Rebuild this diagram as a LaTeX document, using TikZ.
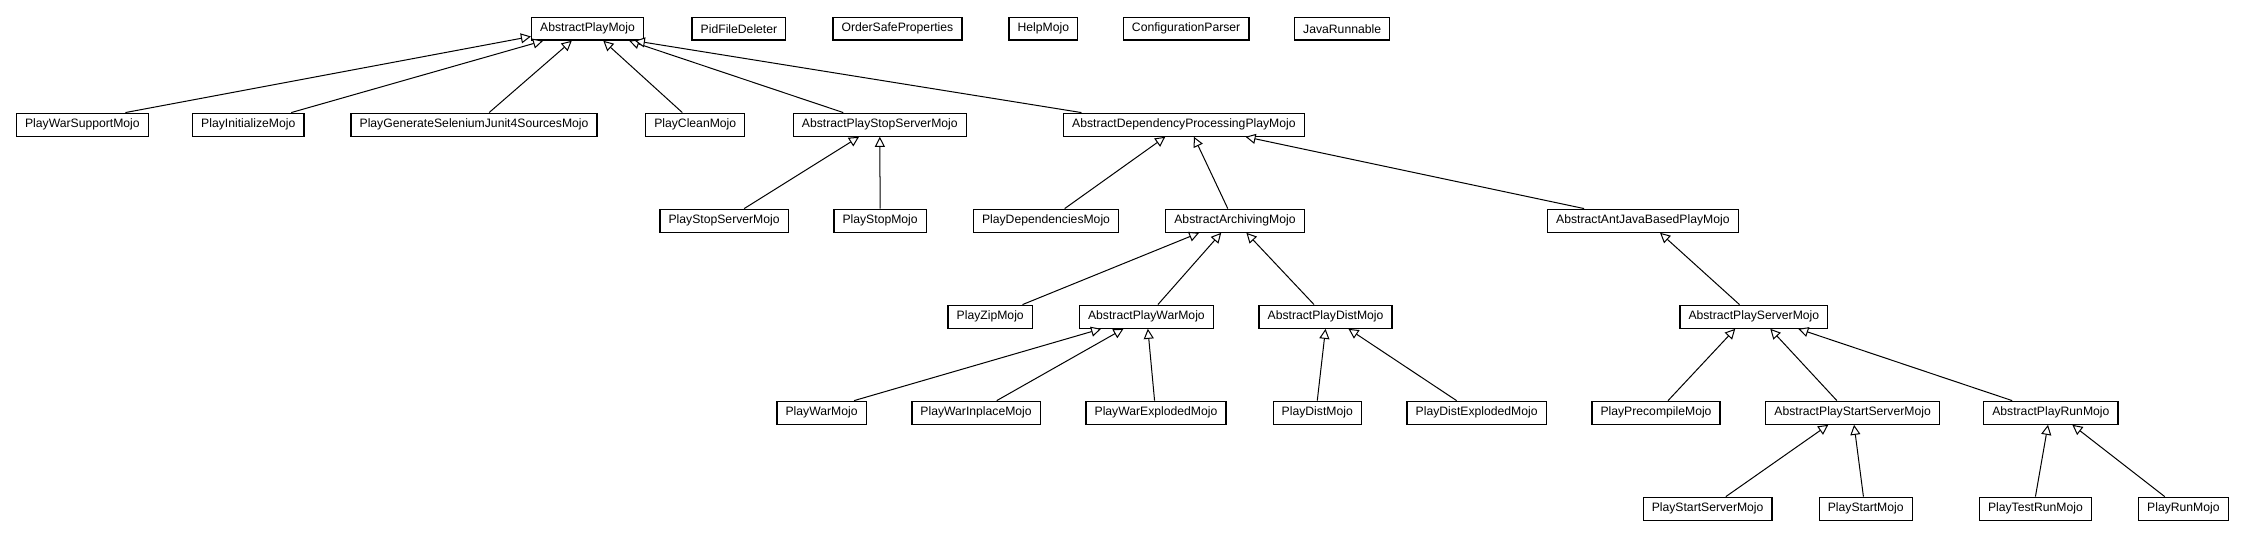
\documentclass[tikz,border=0pt]{standalone}
\usepackage{fontspec}
\setmainfont{Liberation Sans}
\usepackage{tikz}
\usetikzlibrary{arrows.meta, positioning}

\begin{document}
\begin{tikzpicture}[
    x=1pt, y=-1pt,
    cls/.style={rectangle, draw=black, fill=white, line width=0.9pt, minimum height=16pt, inner xsep=6pt, inner ysep=2pt, font=\fontsize{8.5}{10}\selectfont},
    inherits/.style={-{Triangle[open, fill=white, length=7pt, width=7pt]}, line width=0.7pt}
]
    \useasboundingbox (0,0) rectangle (1568,376);

    % row 1
    \node[cls] (apm) at (410,20) {AbstractPlayMojo};
    \node[cls, right=33pt of apm] (pfd) {PidFileDeleter};
    \node[cls, right=32pt of pfd] (osp) {OrderSafeProperties};
    \node[cls, right=32pt of osp] (help) {HelpMojo};
    \node[cls, right=31pt of help] (confparser) {ConfigurationParser};
    \node[cls, right=31pt of confparser] (javarun) {JavaRunnable};

    % row 2
    \node[cls] (warsupport) at (57.5,87) {PlayWarSupportMojo};
    \node[cls, right=30pt of warsupport] (initialize) {PlayInitializeMojo};
    \node[cls, right=32pt of initialize] (selenium) {PlayGenerateSeleniumJunit4SourcesMojo};
    \node[cls, right=33pt of selenium] (clean) {PlayCleanMojo};
    \node[cls, right=33pt of clean] (stopserver) {AbstractPlayStopServerMojo};
    \node[cls, right=67pt of stopserver] (depproc) {AbstractDependencyProcessingPlayMojo};

    % row 3
    \node[cls] (playstopserver) at (505.3,154) {PlayStopServerMojo};
    \node[cls, right=31pt of playstopserver] (playstop) {PlayStopMojo};
    \node[cls, right=32pt of playstop] (dependencies) {PlayDependenciesMojo};
    \node[cls, right=32pt of dependencies] (archiving) {AbstractArchivingMojo};
    \node[cls, right=169pt of archiving] (antjava) {AbstractAntJavaBasedPlayMojo};

    % row 4
    \node[cls] (zip) at (691,221) {PlayZipMojo};
    \node[cls, right=32pt of zip] (war) {AbstractPlayWarMojo};
    \node[cls, right=31pt of war] (dist) {AbstractPlayDistMojo};
    \node[cls, right=200pt of dist] (server) {AbstractPlayServerMojo};

    % row 5
    \node[cls] (playwar) at (573.3,288) {PlayWarMojo};
    \node[cls, right=31pt of playwar] (warinplace) {PlayWarInplaceMojo};
    \node[cls, right=31pt of warinplace] (warexploded) {PlayWarExplodedMojo};
    \node[cls, right=32pt of warexploded] (playdist) {PlayDistMojo};
    \node[cls, right=31pt of playdist] (distexploded) {PlayDistExplodedMojo};
    \node[cls, right=31pt of distexploded] (precompile) {PlayPrecompileMojo};
    \node[cls, right=31pt of precompile] (startserver) {AbstractPlayStartServerMojo};
    \node[cls, right=30pt of startserver] (run) {AbstractPlayRunMojo};

    % row 6
    \node[cls] (playstartserver) at (1191.6,355) {PlayStartServerMojo};
    \node[cls, right=32pt of playstartserver] (playstart) {PlayStartMojo};
    \node[cls, right=46pt of playstart] (testrun) {PlayTestRunMojo};
    \node[cls, right=32pt of testrun] (playrun) {PlayRunMojo};

    \draw[inherits] ([xshift=30pt]warsupport.north) -- ([yshift=3pt]apm.south west);
    \draw[inherits] ([xshift=30pt]initialize.north) -- ([xshift=-31pt]apm.south);
    \draw[inherits] ([xshift=10.5pt]selenium.north) -- ([xshift=-11pt]apm.south);
    \draw[inherits] ([xshift=-9pt]clean.north) -- ([xshift=11pt]apm.south);
    \draw[inherits] ([xshift=-25.5pt]stopserver.north) -- ([xshift=29pt]apm.south);
    \draw[inherits] ([xshift=-71.5pt]depproc.north) -- ([xshift=33pt]apm.south);

    \draw[inherits] ([xshift=14pt]playstopserver.north) -- ([xshift=-14.5pt]stopserver.south);
    \draw[inherits] (playstop.north) -- (stopserver.south);
    \draw[inherits] ([xshift=13pt]dependencies.north) -- ([xshift=-13pt]depproc.south);
    \draw[inherits] ([xshift=-5pt]archiving.north) -- ([xshift=7pt]depproc.south);
    \draw[inherits] ([xshift=-41pt]antjava.north) -- ([xshift=43pt]depproc.south);

    \draw[inherits] ([xshift=22.5pt]zip.north) -- ([xshift=-25pt]archiving.south);
    \draw[inherits] ([xshift=8pt]war.north) -- ([xshift=-9.6pt]archiving.south);
    \draw[inherits] ([xshift=-8pt]dist.north) -- ([xshift=8pt]archiving.south);
    \draw[inherits] ([xshift=-10pt]server.north) -- ([xshift=12pt]antjava.south);

    \draw[inherits] ([xshift=22.7pt]playwar.north) -- ([xshift=-31.6pt]war.south);
    \draw[inherits] ([xshift=14.4pt]warinplace.north) -- ([xshift=-16pt]war.south);
    \draw[inherits] ([xshift=-1pt]warexploded.north) -- ([xshift=1pt]war.south);
    \draw[inherits] (playdist.north) -- (dist.south);
    \draw[inherits] ([xshift=-14pt]distexploded.north) -- ([xshift=16pt]dist.south);
    \draw[inherits] ([xshift=8.4pt]precompile.north) -- ([xshift=-13pt]server.south);
    \draw[inherits] ([xshift=-11pt]startserver.north) -- ([xshift=11.5pt]server.south);
    \draw[inherits] ([xshift=-27pt]run.north) -- ([xshift=31pt]server.south);

    \draw[inherits] ([xshift=12.7pt]playstartserver.north) -- ([xshift=-17pt]startserver.south);
    \draw[inherits] ([xshift=-1.6pt]playstart.north) -- ([xshift=1pt]startserver.south);
    \draw[inherits] (testrun.north) -- ([xshift=-2pt]run.south);
    \draw[inherits] ([xshift=-13pt]playrun.north) -- ([xshift=15pt]run.south);
\end{tikzpicture}
\end{document}
